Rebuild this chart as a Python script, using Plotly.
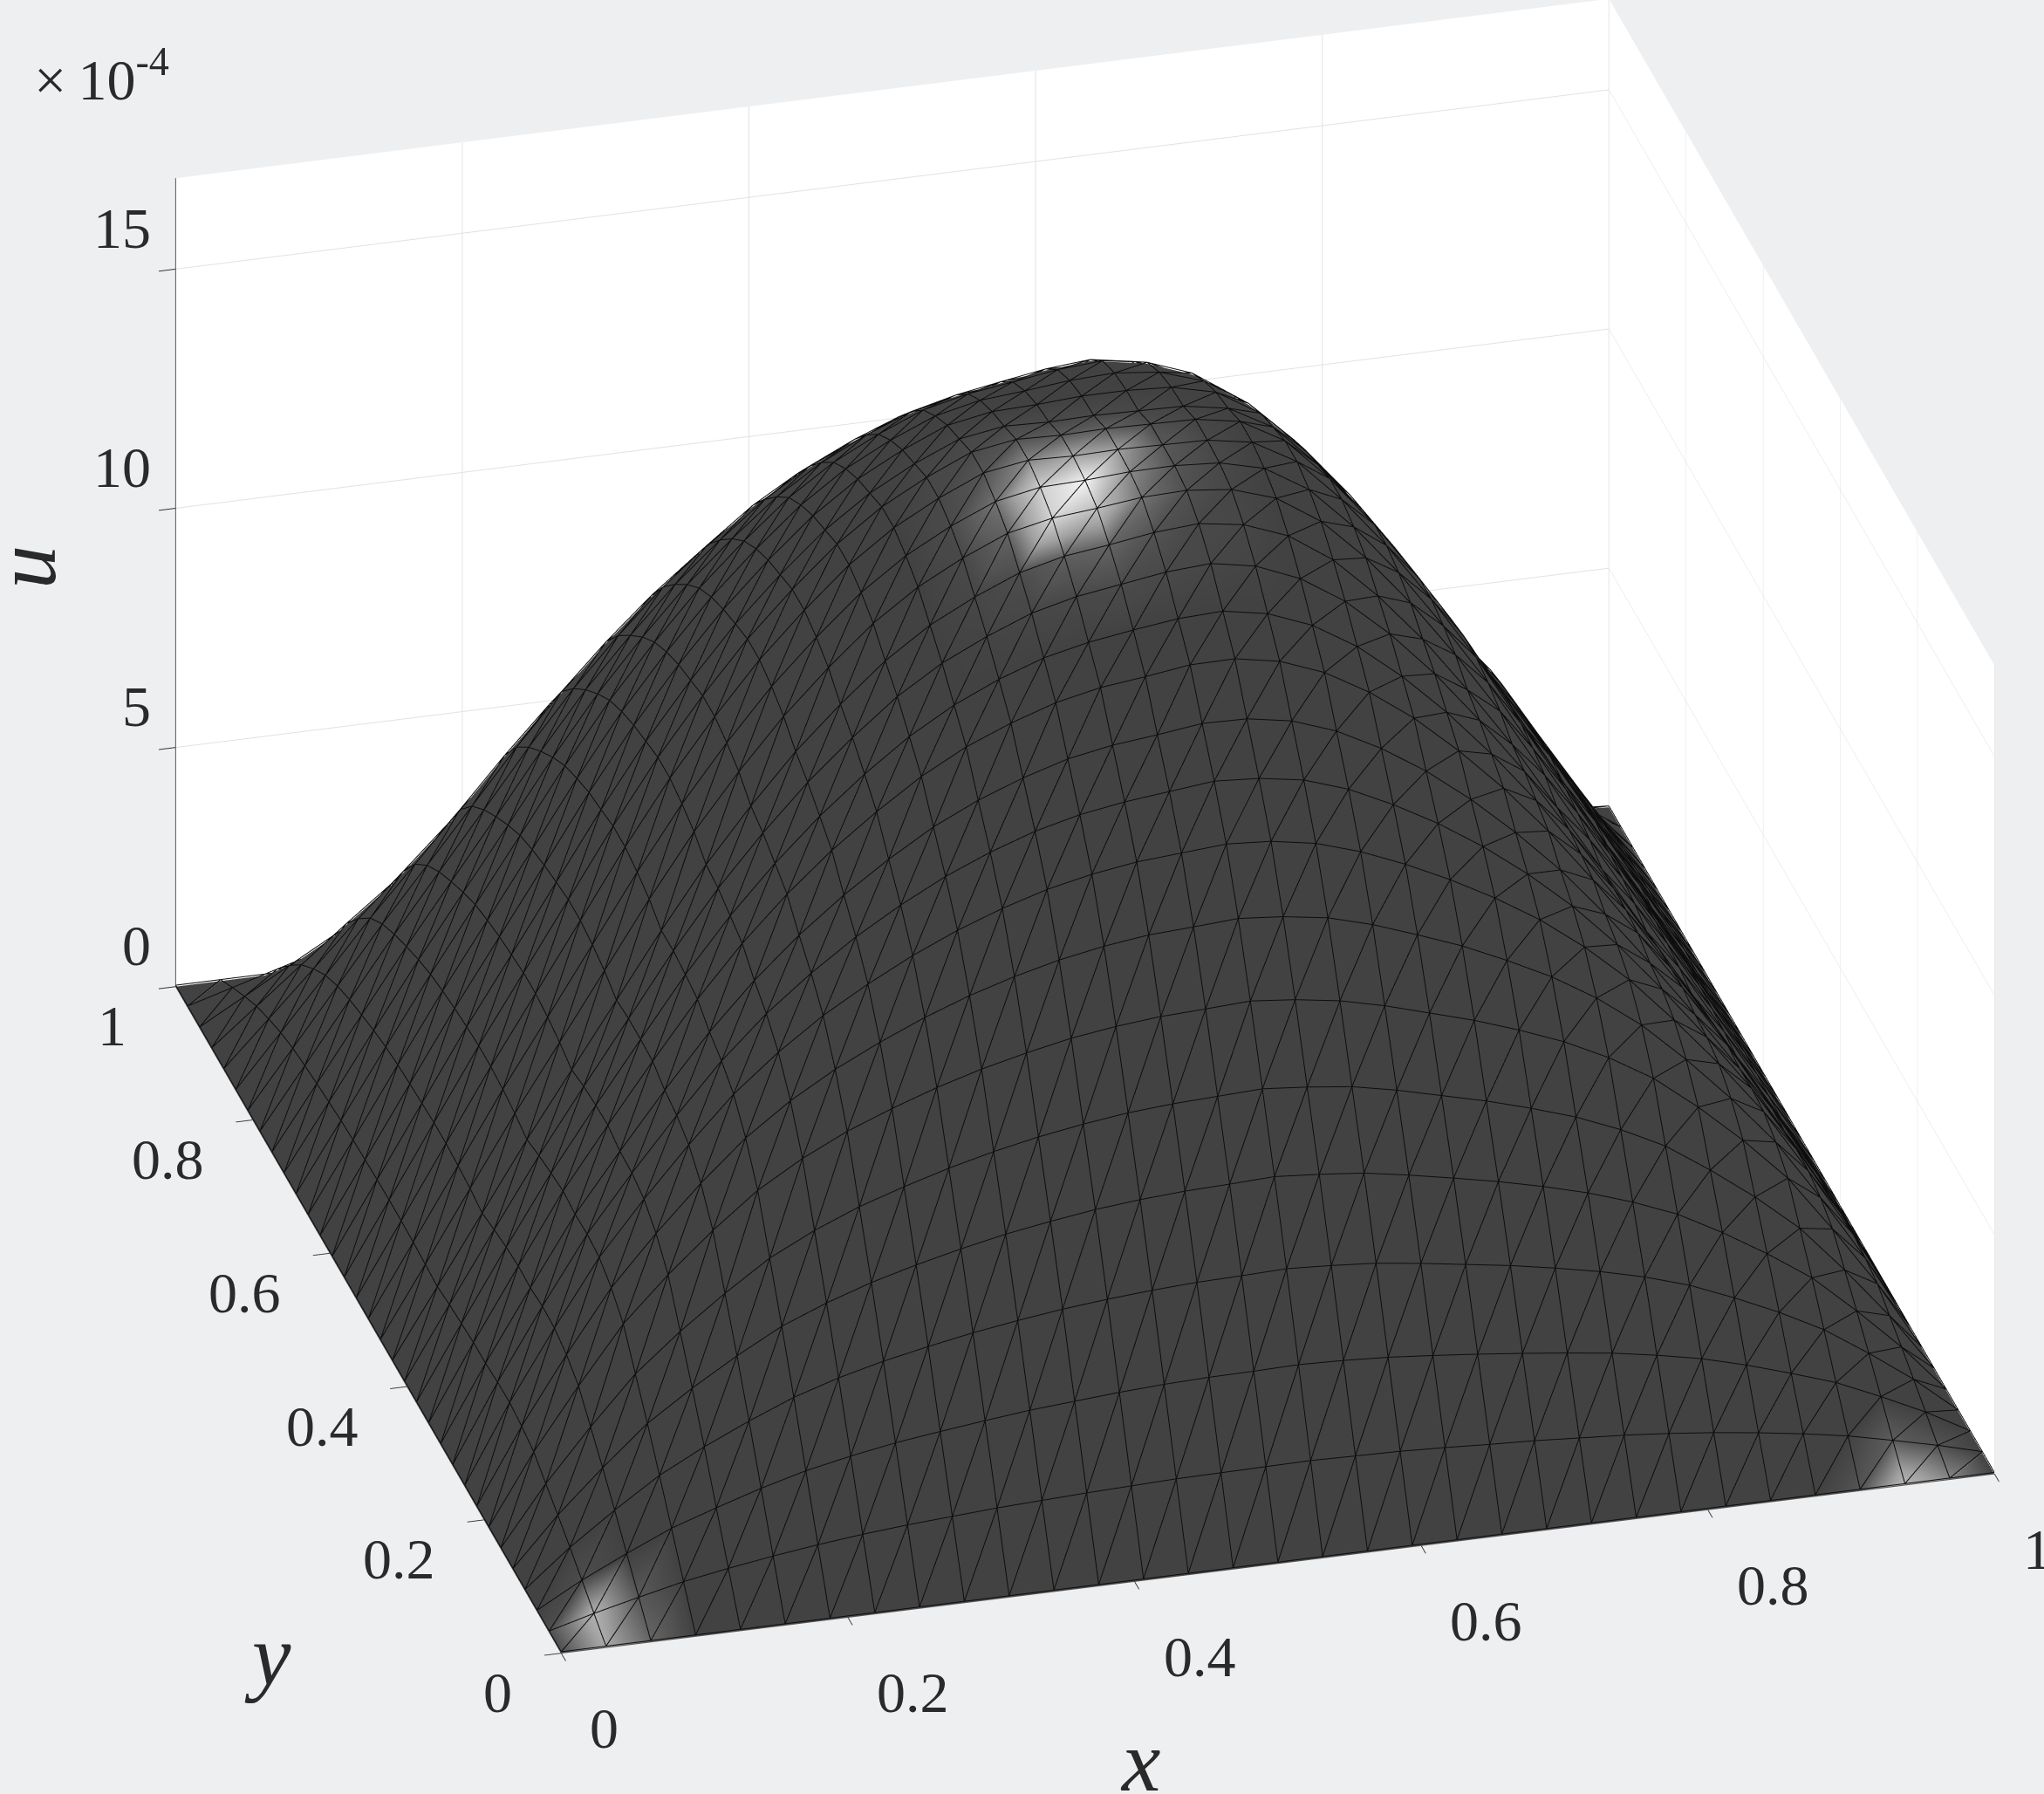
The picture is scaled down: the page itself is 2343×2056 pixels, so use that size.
import plotly.graph_objects as go

x = [i / 32 for i in range(33)]
y = [j / 32 for j in range(33)]

# u (x 1e-4), one row per y
u = [
    [0] * 33,
    [0, .25, .47, .68, .84, .98, 1.10, 1.20, 1.28, 1.34, 1.40, 1.44, 1.48, 1.51, 1.54, 1.55, 1.56, 1.57, 1.55, 1.53, 1.49, 1.44, 1.40, 1.34, 1.28, 1.20, 1.10, .98, .84, .68, .47, .25, 0],
    [0, .51, .95, 1.36, 1.67, 1.96, 2.21, 2.40, 2.56, 2.68, 2.79, 2.89, 2.96, 3.03, 3.08, 3.11, 3.12, 3.14, 3.11, 3.06, 2.98, 2.89, 2.79, 2.68, 2.56, 2.40, 2.21, 1.96, 1.67, 1.36, .95, .51, 0],
    [0, .76, 1.42, 2.03, 2.51, 2.93, 3.31, 3.60, 3.83, 4.02, 4.19, 4.33, 4.45, 4.54, 4.61, 4.66, 4.68, 4.71, 4.66, 4.59, 4.47, 4.33, 4.19, 4.02, 3.83, 3.60, 3.31, 2.93, 2.51, 2.03, 1.42, .76, 0],
    [0, 1.00, 1.87, 2.68, 3.30, 3.86, 4.36, 4.73, 5.04, 5.29, 5.51, 5.70, 5.85, 5.98, 6.07, 6.13, 6.16, 6.20, 6.13, 6.04, 5.88, 5.70, 5.51, 5.29, 5.04, 4.73, 4.36, 3.86, 3.30, 2.68, 1.87, 1.00, 0],
    [0, 1.22, 2.29, 3.28, 4.05, 4.73, 5.35, 5.81, 6.19, 6.49, 6.76, 6.99, 7.18, 7.33, 7.45, 7.52, 7.56, 7.60, 7.52, 7.41, 7.22, 6.99, 6.76, 6.49, 6.19, 5.81, 5.35, 4.73, 4.05, 3.28, 2.29, 1.22, 0],
    [0, 1.45, 2.71, 3.89, 4.80, 5.61, 6.33, 6.88, 7.33, 7.69, 8.01, 8.28, 8.50, 8.69, 8.82, 8.91, 8.95, 9.00, 8.91, 8.77, 8.55, 8.28, 8.01, 7.69, 7.33, 6.88, 6.33, 5.61, 4.80, 3.89, 2.71, 1.45, 0],
    [0, 1.55, 2.93, 4.21, 5.23, 6.16, 6.99, 7.65, 8.19, 8.64, 9.04, 9.38, 9.66, 9.89, 10.06, 10.18, 10.23, 10.29, 10.21, 10.07, 9.81, 9.48, 9.13, 8.71, 8.25, 7.69, 7.01, 6.17, 5.24, 4.21, 2.93, 1.55, 0],
    [0, 1.61, 3.05, 4.41, 5.51, 6.53, 7.47, 8.23, 8.88, 9.42, 9.90, 10.31, 10.65, 10.93, 11.13, 11.27, 11.34, 11.41, 11.35, 11.19, 10.90, 10.52, 10.08, 9.58, 9.01, 8.32, 7.52, 6.56, 5.53, 4.41, 3.05, 1.61, 0],
    [0, 1.60, 3.07, 4.46, 5.62, 6.71, 7.73, 8.60, 9.33, 9.97, 10.52, 11.00, 11.39, 11.71, 11.94, 12.09, 12.19, 12.29, 12.23, 12.08, 11.77, 11.33, 10.82, 10.22, 9.53, 8.74, 7.82, 6.77, 5.65, 4.46, 3.07, 1.60, 0],
    [0, 1.56, 3.02, 4.44, 5.64, 6.80, 7.90, 8.86, 9.69, 10.41, 11.04, 11.60, 12.04, 12.39, 12.67, 12.84, 12.94, 13.06, 13.04, 12.88, 12.55, 12.07, 11.48, 10.77, 9.96, 9.06, 8.02, 6.88, 5.69, 4.44, 3.02, 1.56, 0],
    [0, 1.56, 3.04, 4.49, 5.75, 6.97, 8.15, 9.20, 10.11, 10.91, 11.60, 12.22, 12.72, 13.10, 13.41, 13.61, 13.72, 13.85, 13.86, 13.69, 13.34, 12.81, 12.15, 11.35, 10.45, 9.44, 8.30, 7.07, 5.81, 4.49, 3.04, 1.56, 0],
    [0, 1.52, 3.00, 4.43, 5.73, 6.99, 8.23, 9.34, 10.32, 11.19, 11.95, 12.62, 13.16, 13.58, 13.91, 14.12, 14.26, 14.38, 14.42, 14.25, 13.89, 13.33, 12.59, 11.72, 10.73, 9.64, 8.40, 7.12, 5.79, 4.43, 3.00, 1.52, 0],
    [0, 1.48, 2.93, 4.36, 5.69, 6.99, 8.29, 9.48, 10.52, 11.46, 12.28, 13.02, 13.60, 14.04, 14.41, 14.64, 14.78, 14.92, 14.98, 14.81, 14.43, 13.84, 13.04, 12.09, 11.00, 9.82, 8.48, 7.13, 5.76, 4.36, 2.93, 1.48, 0],
    [0, 1.42, 2.84, 4.26, 5.60, 6.94, 8.28, 9.54, 10.65, 11.67, 12.54, 13.33, 13.96, 14.43, 14.82, 15.05, 15.17, 15.31, 15.38, 15.24, 14.89, 14.27, 13.40, 12.38, 11.20, 9.94, 8.51, 7.10, 5.68, 4.26, 2.84, 1.42, 0],
    [0, 1.45, 2.92, 4.37, 5.74, 7.12, 8.50, 9.79, 10.93, 11.97, 12.87, 13.68, 14.32, 14.81, 15.21, 15.41, 15.50, 15.61, 15.64, 15.54, 15.24, 14.64, 13.76, 12.70, 11.50, 10.20, 8.74, 7.28, 5.83, 4.37, 2.92, 1.45, 0],
    [0, 1.48, 2.96, 4.44, 5.83, 7.23, 8.63, 9.94, 11.10, 12.16, 13.07, 13.89, 14.54, 15.04, 15.44, 15.62, 15.65, 15.71, 15.72, 15.66, 15.43, 14.87, 13.97, 12.90, 11.67, 10.36, 8.87, 7.40, 5.92, 4.44, 2.96, 1.48, 0],
    [0, 1.49, 2.99, 4.48, 5.89, 7.30, 8.72, 10.04, 11.21, 12.28, 13.20, 14.03, 14.69, 15.19, 15.60, 15.75, 15.72, 15.74, 15.72, 15.70, 15.54, 15.02, 14.11, 13.03, 11.79, 10.46, 8.96, 7.47, 5.98, 4.48, 2.99, 1.49, 0],
    [0, 1.49, 2.99, 4.48, 5.89, 7.30, 8.72, 10.04, 11.21, 12.28, 13.20, 14.03, 14.69, 15.19, 15.60, 15.75, 15.72, 15.74, 15.72, 15.70, 15.54, 15.02, 14.11, 13.03, 11.79, 10.46, 8.96, 7.47, 5.98, 4.48, 2.99, 1.49, 0],
    [0, 1.48, 2.96, 4.44, 5.83, 7.23, 8.63, 9.94, 11.10, 12.16, 13.07, 13.89, 14.54, 15.04, 15.44, 15.59, 15.56, 15.58, 15.56, 15.54, 15.38, 14.87, 13.97, 12.90, 11.67, 10.36, 8.87, 7.40, 5.92, 4.44, 2.96, 1.48, 0],
    [0, 1.46, 2.93, 4.39, 5.77, 7.15, 8.55, 9.84, 10.99, 12.03, 12.94, 13.75, 14.40, 14.89, 15.29, 15.46, 15.49, 15.55, 15.55, 15.50, 15.28, 14.72, 13.83, 12.77, 11.55, 10.25, 8.78, 7.32, 5.86, 4.39, 2.93, 1.46, 0],
    [0, 1.44, 2.89, 4.32, 5.68, 7.04, 8.41, 9.69, 10.82, 11.85, 12.74, 13.54, 14.18, 14.66, 15.05, 15.26, 15.34, 15.44, 15.48, 15.38, 15.08, 14.49, 13.62, 12.57, 11.38, 10.09, 8.65, 7.21, 5.77, 4.32, 2.89, 1.44, 0],
    [0, 1.41, 2.83, 4.23, 5.57, 6.90, 8.24, 9.49, 10.59, 11.60, 12.47, 13.26, 13.88, 14.35, 14.74, 14.96, 15.09, 15.23, 15.30, 15.15, 14.81, 14.19, 13.33, 12.31, 11.14, 9.98, 8.62, 7.25, 5.86, 4.39, 2.93, 1.46, 0],
    [0, 1.36, 2.74, 4.10, 5.39, 6.68, 7.98, 9.19, 10.26, 11.24, 12.08, 12.84, 13.44, 13.90, 14.27, 14.50, 14.66, 14.81, 14.89, 14.73, 14.36, 13.74, 12.91, 11.92, 10.79, 9.72, 8.44, 7.14, 5.80, 4.35, 2.90, 1.45, 0],
    [0, 1.31, 2.63, 3.94, 5.18, 6.42, 7.67, 8.84, 9.86, 10.81, 11.62, 12.35, 12.93, 13.37, 13.73, 13.95, 14.10, 14.25, 14.32, 14.17, 13.81, 13.22, 12.42, 11.47, 10.38, 9.41, 8.24, 7.02, 5.74, 4.30, 2.87, 1.43, 0],
    [0, 1.25, 2.51, 3.76, 4.95, 6.13, 7.32, 8.43, 9.42, 10.32, 11.09, 11.79, 12.34, 12.76, 13.10, 13.31, 13.46, 13.60, 13.67, 13.52, 13.18, 12.62, 11.85, 10.95, 9.90, 9.07, 8.02, 6.89, 5.68, 4.26, 2.84, 1.42, 0],
    [0, 1.18, 2.36, 3.54, 4.65, 5.77, 6.89, 7.93, 8.86, 9.70, 10.43, 11.08, 11.61, 12.00, 12.32, 12.52, 12.66, 12.79, 12.85, 12.72, 12.40, 11.87, 11.15, 10.29, 9.31, 8.66, 7.75, 6.74, 5.62, 4.21, 2.81, 1.40, 0],
    [0, 1.07, 2.15, 3.23, 4.24, 5.26, 6.28, 7.23, 8.07, 8.84, 9.50, 10.10, 10.58, 10.94, 11.23, 11.41, 11.53, 11.66, 11.71, 11.59, 11.30, 10.81, 10.16, 9.38, 8.49, 8.05, 7.35, 6.50, 5.50, 4.12, 2.75, 1.37, 0],
    [0, .92, 1.85, 2.78, 3.65, 4.53, 5.41, 6.22, 6.95, 7.61, 8.18, 8.70, 9.11, 9.42, 9.67, 9.83, 9.93, 10.04, 10.09, 9.98, 9.73, 9.31, 8.75, 8.08, 7.31, 7.17, 6.72, 6.09, 5.26, 3.94, 2.63, 1.31, 0],
    [0, .75, 1.50, 2.24, 2.95, 3.65, 4.36, 5.02, 5.61, 6.14, 6.60, 7.02, 7.35, 7.60, 7.80, 7.93, 8.01, 8.10, 8.14, 8.05, 7.85, 7.51, 7.06, 6.52, 5.90, 6.01, 5.82, 5.42, 4.78, 3.58, 2.39, 1.19, 0],
    [0, .52, 1.05, 1.57, 2.06, 2.56, 3.05, 3.51, 3.92, 4.30, 4.62, 4.91, 5.14, 5.32, 5.46, 5.55, 5.61, 5.67, 5.69, 5.64, 5.49, 5.26, 4.94, 4.56, 4.13, 4.37, 4.35, 4.13, 3.71, 2.78, 1.85, .92, 0],
    [0, .27, .54, .81, 1.06, 1.31, 1.57, 1.81, 2.02, 2.21, 2.38, 2.53, 2.64, 2.73, 2.81, 2.85, 2.88, 2.91, 2.93, 2.90, 2.82, 2.70, 2.54, 2.35, 2.12, 2.30, 2.33, 2.24, 2.03, 1.52, 1.02, .51, 0],
    [0] * 33,
]

# bright patch near the top, rows j=13..19, columns i=13..19
top_glow = [
    [.01, .02, .03, .04, .03, .02, .01],
    [.02, .05, .12, .14, .07, .03, .02],
    [.03, .14, .72, .58, .20, .06, .02],
    [.04, .20, .70, .92, .30, .08, .03],
    [.03, .08, .30, .45, .40, .10, .03],
    [.02, .04, .08, .12, .14, .06, .02],
    [.01, .02, .03, .04, .04, .03, .01],
]
# bright spots by the two front corners
corner_i = [1, 1, 2, 2, 0, 0, 1, 30, 31, 30, 29, 31]
corner_j = [0, 1, 0, 1, 0, 1, 2, 0, 0, 1, 0, 1]
corner_v = [.45, .5, .15, .1, .05, .05, .05, .55, .3, .12, .08, .08]

xy_ticks = [0, .2, .4, .6, .8, 1]
xy_labels = ['0', '0.2', '0.4', '0.6', '0.8', '1']
z_ticks = [0, 5, 10, 15]
z_labels = ['0', '5', '10', '15']

n = len(x)
glow = [[0] * n for _ in range(n)]
for row, vals in enumerate(top_glow):
    for col, v in enumerate(vals):
        glow[13 + row][13 + col] = v
for i, j, v in zip(corner_i, corner_j, corner_v):
    glow[j][i] = v

vx, vy, vz, vc, ti, tj, tk = [], [], [], [], [], [], []
for j in range(n):
    for i in range(n):
        vx.append(x[i]); vy.append(y[j]); vz.append(u[j][i]); vc.append(glow[j][i])
for j in range(n - 1):
    for i in range(n - 1):
        a = j * n + i
        b = a + 1
        c = a + n
        d = c + 1
        ti += [a, a]; tj += [b, d]; tk += [d, c]

lx, ly, lz = [], [], []
lift = 0.03
for j in range(n):
    lx += x + [None]; ly += [y[j]] * n + [None]; lz += [v + lift for v in u[j]] + [None]
for i in range(n):
    lx += [x[i]] * n + [None]; ly += y + [None]; lz += [u[j][i] + lift for j in range(n)] + [None]
for k in range(-(n - 2), n - 1):
    for j in range(n):
        i = j + k
        if 0 <= i < n:
            lx.append(x[i]); ly.append(y[j]); lz.append(u[j][i] + lift)
    lx.append(None); ly.append(None); lz.append(None)

fig = go.Figure()
fig.add_trace(go.Mesh3d(x=vx, y=vy, z=vz, i=ti, j=tj, k=tk, intensity=vc, cmin=0, cmax=1, showscale=False,
                        colorscale=[[0, '#424242'], [.1, '#5a5a5a'], [.4, '#a0a0a0'], [1, '#ffffff']],
                        lighting=dict(ambient=1, diffuse=0, specular=0, roughness=1, fresnel=0), hoverinfo='skip'))
fig.add_trace(go.Scatter3d(x=lx, y=ly, z=lz, mode='lines', line=dict(color='#0d0d0d', width=2),
                           hoverinfo='skip', showlegend=False))

tick_font = dict(family='Liberation Serif', size=66, color='#2a2a2a')
title_font = dict(family='Liberation Serif', size=100, color='#2a2a2a')
scene_notes = []
for v, t in zip(xy_ticks, xy_labels):
    scene_notes.append(dict(x=v, y=0, z=0, text=t, showarrow=False, xanchor='left', xshift=31, yshift=-86, font=tick_font))
    scene_notes.append(dict(x=0, y=v, z=0, text=t, showarrow=False, xanchor='right', xshift=-54, yshift=-45, font=tick_font))
for v, t in zip(z_ticks, z_labels):
    scene_notes.append(dict(x=0, y=1, z=v, text=t, showarrow=False, xanchor='right', xshift=-26, yshift=47, font=tick_font))

axis = dict(showbackground=True, backgroundcolor='white', gridcolor='#e2e2e2', gridwidth=2,
            zeroline=False, showline=True, linecolor='#555555', linewidth=2, ticks='outside',
            ticklen=20, tickcolor='#333333', tickwidth=2, showticklabels=False,
            title=dict(text=''), showspikes=False)
r = 2.0
e = (-.23, -.855, .465)
c = (-.0775, -.0173, -.0700)
fig.update_layout(
    width=2343, height=2056, margin=dict(l=0, r=0, t=0, b=0), paper_bgcolor='#eeeff1', showlegend=False,
    scene=dict(
        domain=dict(x=[0, 1], y=[0, 1]),
        xaxis=dict(axis, range=[0, 1], tickvals=xy_ticks),
        yaxis=dict(axis, range=[0, 1], tickvals=xy_ticks),
        zaxis=dict(axis, range=[0, 16.9], tickvals=z_ticks),
        aspectmode='manual', aspectratio=dict(x=1.655, y=1.655, z=1.018),
        annotations=scene_notes,
        camera=dict(projection=dict(type='orthographic'), up=dict(x=0, y=0, z=1),
                    center=dict(x=c[0], y=c[1], z=c[2]),
                    eye=dict(x=c[0] + r * e[0], y=c[1] + r * e[1], z=c[2] + r * e[2])),
    ),
    annotations=[
        dict(text='×\u200910<sup>-4</sup>', xref='paper', yref='paper', x=.016, y=.958, xanchor='left', yanchor='middle',
             showarrow=False, font=tick_font),
        dict(text='<i>x</i>', xref='paper', yref='paper', x=.558, y=.018, xanchor='center', yanchor='middle', showarrow=False, font=title_font),
        dict(text='<i>y</i>', xref='paper', yref='paper', x=.131, y=.077, xanchor='center', yanchor='middle', showarrow=False, font=title_font),
        dict(text='<i>u</i>', xref='paper', yref='paper', x=.0125, y=.684, xanchor='center', yanchor='middle', showarrow=False, textangle=-90, font=title_font),
    ],
)
fig.write_html("out.html", post_script="document.body.style.margin='0';", config={'displayModeBar': False})
